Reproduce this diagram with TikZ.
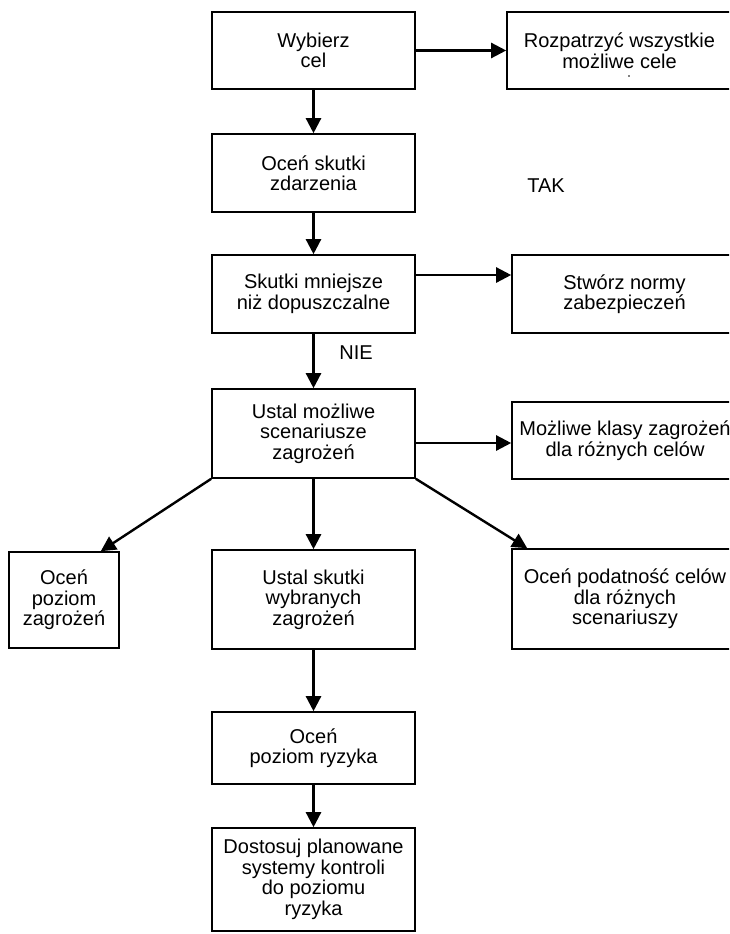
\documentclass[tikz,border=0pt]{standalone}
\usepackage{fontspec}
\setmainfont{Liberation Sans}
\usetikzlibrary{arrows.meta}
\begin{document}
\begin{tikzpicture}[x=1pt,y=-1pt,
  box/.style={draw,line width=1.6pt,inner sep=0pt,align=center,font=\fontsize{20pt}{20.5pt}\selectfont},
  arr/.style={line width=2.4pt,-{Triangle[length=15pt,width=15pt]}},
  lbl/.style={inner sep=0pt,font=\fontsize{20pt}{20.5pt}\selectfont}]
\fill[white] (0,0) rectangle (729,934);
\useasboundingbox (0,0) rectangle (729,934);
\clip (0,0) rectangle (729,934);
% left column
\node[box,minimum width=203pt,minimum height=77pt] (wybierz) at (313.5,50.5) {Wybierz\\cel};
\node[box,minimum width=203pt,minimum height=78pt] (ocen) at (313.5,173) {Oceń skutki\\zdarzenia};
\node[box,minimum width=203pt,minimum height=78pt] (skutki) at (313.5,294) {Skutki mniejsze\\niż dopuszczalne};
\node[box,minimum width=203pt,minimum height=89pt] (ustal) at (313.5,433.5) {Ustal możliwe\\scenariusze\\zagrożeń};
\node[box,minimum width=203pt,minimum height=99pt] (skutkiwyb) at (313.5,599.5) {Ustal skutki\\wybranych\\zagrożeń};
\node[box,minimum width=203pt,minimum height=72pt] (ryzyko) at (313.5,748) {Oceń\\poziom ryzyka};
\node[box,minimum width=203pt,minimum height=103pt] (dostosuj) at (313.5,879.5) {Dostosuj planowane\\systemy kontroli\\do poziomu\\ryzyka};
% right column
\node[box,minimum width=225pt,minimum height=77pt] (rozpatrz) at (619.5,50.5) {Rozpatrzyć wszystkie\\możliwe cele};
\node[box,minimum width=225pt,minimum height=78pt] (stworz) at (624.5,294) {Stwórz normy\\zabezpieczeń};
\node[box,minimum width=226pt,minimum height=77pt] (mozliwe) at (625,440.5) {Możliwe klasy zagrożeń\\dla różnych celów};
\node[box,minimum width=226pt,minimum height=100pt] (podatnosc) at (625,599) {Oceń podatność celów\\dla różnych\\scenariuszy};
% far left
\node[box,minimum width=110pt,minimum height=96pt] (poziom) at (64,600) {Oceń\\poziom\\zagrożeń};
% labels
\node[lbl] (tak) at (546,186) {TAK};
\node[lbl] (nie) at (356,353) {NIE};
\fill (629,76) circle (0.8);
% connectors
\draw[arr] (wybierz.east) -- (rozpatrz.west);
\draw[arr] (wybierz.south) -- (ocen.north);
\draw[arr] (ocen.south) -- (skutki.north);
\draw[arr] ([yshift=19pt]skutki.east) -- ([yshift=19pt]stworz.west);
\draw[arr] (skutki.south) -- (ustal.north);
\draw[arr] ([yshift=-9.5pt]ustal.east) -- ([yshift=-2.5pt]mozliwe.west);
\draw[arr] (ustal.south west) -- ([xshift=-19pt]poziom.north east);
\draw[arr] (ustal.south) -- (skutkiwyb.north);
\draw[arr] (ustal.south east) -- ([xshift=16pt]podatnosc.north west);
\draw[arr] (skutkiwyb.south) -- (ryzyko.north);
\draw[arr] (ryzyko.south) -- (dostosuj.north);
\end{tikzpicture}
\end{document}
